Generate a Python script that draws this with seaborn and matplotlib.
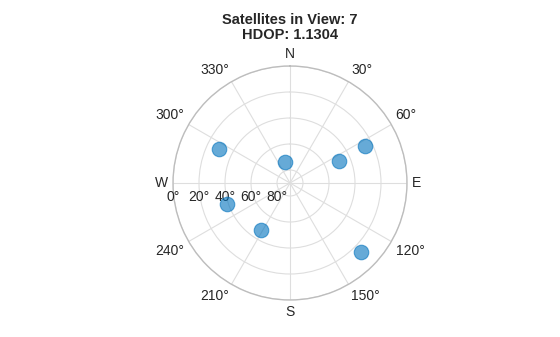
import numpy as np
import matplotlib
matplotlib.use("Agg")
import matplotlib.pyplot as plt
import matplotlib.transforms as mtransforms
import seaborn as sns
import pandas as pd

# Data (azimuth in degrees, elevation in degrees)
azimuth = [346.6, 295.6, 65.8, 63.7, 134.2, 211.7, 251.6]
elevation = [73.4, 29.5, 48.7, 25.7, 13.8, 47.5, 38.9]
sats_in_view = 7
hdop = 1.1304

theta_ticks = [0, 30, 60, 90, 120, 150, 180, 210, 240, 270, 300, 330]
theta_labels = ["N", "30°", "60°", "E", "120°", "150°", "S", "210°", "240°", "W", "300°", "330°"]
elev_ticks = [0, 20, 40, 60, 80]
elev_labels = ["0°", "20°", "40°", "60°", "80°"]

sns.set_style("white")
plt.rcParams["font.family"] = ["Liberation Sans", "DejaVu Sans"]

df = pd.DataFrame({"theta": np.deg2rad(azimuth), "r": 90 - np.array(elevation)})

fig = plt.figure(figsize=(5.6, 3.37), dpi=100)
ax = fig.add_axes([173 / 560, 1 - 300 / 337, 234 / 560, 234 / 337], projection="polar")
ax.set_theta_zero_location("N")
ax.set_theta_direction(-1)
ax.set_ylim(0, 90)

ax.set_xticks(np.deg2rad(theta_ticks))
ax.set_xticklabels([])
ax.tick_params(axis="x", length=0)
ring_r = [90 - e for e in elev_ticks]
ax.set_yticks(ring_r)
ax.set_yticklabels([])
ax.grid(True, color="#dedede", linewidth=0.8)
ax.spines["polar"].set_color("#bdbdbd")
ax.spines["polar"].set_linewidth(1.0)
ax.set_axisbelow(True)

# Theta labels outside the circle, aligned away from it
gap = 5 / 100.0
for a, lab in zip(theta_ticks, theta_labels):
    s, c = np.sin(np.deg2rad(a)), np.cos(np.deg2rad(a))
    ha = "left" if s > 0.1 else ("right" if s < -0.1 else "center")
    va = "bottom" if c > 0.1 else ("top" if c < -0.1 else "center")
    off = mtransforms.ScaledTranslation(gap * s, gap * c, fig.dpi_scale_trans)
    ax.text(np.deg2rad(a), 90, lab, ha=ha, va=va, fontsize=10, color="#262626",
            transform=ax.transData + off, clip_on=False)

for r, lab in zip(ring_r, elev_labels):
    ax.text(np.deg2rad(270), r, lab, ha="center", va="top", fontsize=10,
            color="#262626",
            transform=ax.transData + mtransforms.ScaledTranslation(0, -5 / 72, fig.dpi_scale_trans))

sns.scatterplot(data=df, x="theta", y="r", ax=ax, s=110, color="#0072BD",
                alpha=0.6, edgecolor="#0072BD", linewidth=0.8, legend=False, zorder=3)
ax.set_xlabel("")
ax.set_ylabel("")

fig.text(290 / 560, 1 - 27.5 / 337, f"Satellites in View: {sats_in_view}\nHDOP: {hdop:.4f}",
         ha="center", va="center", fontsize=10.5, fontweight="bold", color="#262626", linespacing=1.1)

fig.savefig("out.png", dpi=100)
